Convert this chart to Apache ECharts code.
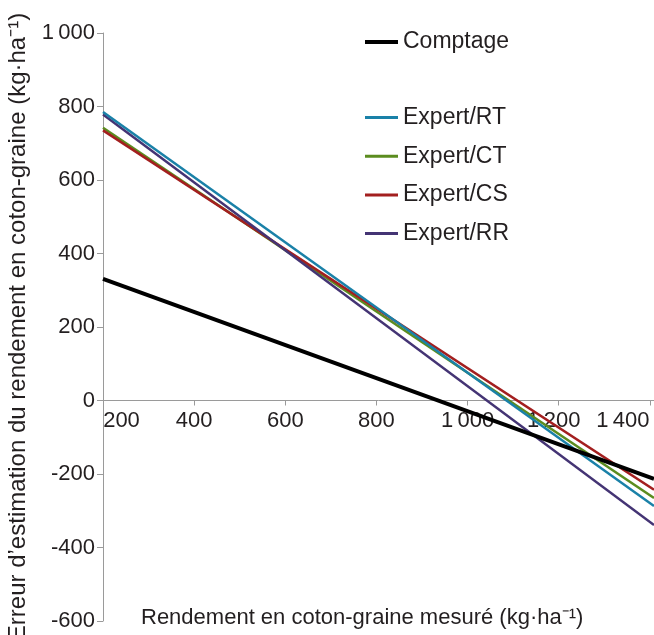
<!DOCTYPE html>
<html>
<head>
<meta charset="utf-8">
<script src="https://cdn.jsdelivr.net/npm/echarts@6/dist/echarts.min.js"></script>
<style>html,body{margin:0;padding:0;background:#fff}#c{width:654px;height:635px}</style>
</head>
<body>
<div id="c"></div>
<script>
// Data
const xValues = [200, 1409];
const comptage = [331, -213];
const expertRT = [785, -287];
const expertCT = [742, -265];
const expertCS = [735, -243];
const expertRR = [778, -339];
const xTicks = [200, 400, 600, 800, 1000, 1200, 1400];
const yTicks = [-600, -400, -200, 0, 200, 400, 600, 800, 1000];

const FONT = '"Liberation Sans", Arial, sans-serif';
const TXT = '#231f20';
const AX = '#9a9a9a';
const GRID_TOP = 33, GRID_BOTTOM = 14, H = 635;
const Y_MIN = -600, Y_MAX = 1000;
// distance (px) from grid bottom up to value 0, to place x axis line at y = 0
const plotH = H - GRID_TOP - GRID_BOTTOM;
const zeroOffset = -plotH * (0 - Y_MIN) / (Y_MAX - Y_MIN);

function pairs(ys) { return xValues.map((x, i) => [x, ys[i]]); }
function fmt(v) {
  const s = String(Math.abs(v));
  const t = s.length > 3 ? s.slice(0, s.length - 3) + '\u2009' + s.slice(s.length - 3) : s;
  return (v < 0 ? '-' : '') + t;
}

const legText = { fontSize: 23, color: TXT, fontFamily: FONT, lineHeight: 24 };

const chart = echarts.init(document.getElementById('c'));
chart.setOption({
  animation: false,
  textStyle: { fontFamily: FONT },
  grid: { left: 103, right: 0, top: GRID_TOP, bottom: GRID_BOTTOM, outerBoundsMode: 'none', containLabel: false },
  legend: [
    {
      data: [{ name: 'Comptage', icon: 'rect' }], left: 365, top: 30, orient: 'vertical', padding: 0,
      itemWidth: 33, itemHeight: 4, itemGap: 14, textStyle: legText
    },
    {
      data: ['Expert/RT', 'Expert/CT', 'Expert/CS', 'Expert/RR'].map(n => ({ name: n, icon: 'rect' })),
      left: 365, top: 105.5, orient: 'vertical', padding: 0,
      itemWidth: 33, itemHeight: 3, itemGap: 14.7, textStyle: legText
    }
  ],
  xAxis: {
    type: 'value', min: 200, max: 1409, interval: 200,
    offset: zeroOffset,
    axisLine: { onZero: false, lineStyle: { color: AX, width: 1 } },
    axisTick: { show: true, length: 5, lineStyle: { color: AX } },
    splitLine: { show: false },
    axisLabel: {
      fontSize: 22, color: TXT, fontFamily: FONT, margin: 9, showMaxLabel: false,
      formatter: function (v) {
        if (xTicks.indexOf(v) < 0) return '';
        if (v === 200) return '{f|' + fmt(v) + '}';
        if (v === 1400) return '{l|' + fmt(v) + '}';
        if (v === 1200) return '{m|' + fmt(v) + '}';
        return fmt(v);
      },
      rich: {
        f: { fontSize: 22, color: TXT, fontFamily: FONT, padding: [0, 0, 0, 37] },
        m: { fontSize: 22, color: TXT, fontFamily: FONT, padding: [0, 10, 0, 0] },
        l: { fontSize: 22, color: TXT, fontFamily: FONT, padding: [0, 54, 0, 0] }
      }
    }
  },
  yAxis: {
    type: 'value', min: Y_MIN, max: Y_MAX, interval: 200,
    axisLine: { show: true, lineStyle: { color: AX, width: 1 } },
    axisTick: { show: true, length: 6, lineStyle: { color: AX } },
    splitLine: { show: false },
    axisLabel: {
      fontSize: 22, color: TXT, fontFamily: FONT, margin: 8,
      formatter: function (v) { return yTicks.indexOf(v) < 0 ? '' : fmt(v); }
    },
    name: 'Erreur d\u2019estimation du rendement en coton-graine (kg\u00b7ha\u207b\u00b9)',
    nameLocation: 'middle', nameGap: 71, nameRotate: 90,
    nameTextStyle: { fontSize: 24, color: TXT, fontFamily: FONT }
  },
  graphic: [{
    type: 'text', left: 141, top: 607,
    style: {
      text: 'Rendement en coton-graine mesur\u00e9 (kg\u00b7ha\u207b\u00b9)',
      fontSize: 22, fill: TXT, fontFamily: FONT
    }
  }],
  series: [
    { name: 'Comptage', type: 'line', data: pairs(comptage), symbol: 'none', z: 5,
      lineStyle: { color: '#000000', width: 4 }, itemStyle: { color: '#000000' } },
    { name: 'Expert/RT', type: 'line', data: pairs(expertRT), symbol: 'none', z: 4,
      lineStyle: { color: '#1a81a8', width: 2.5 }, itemStyle: { color: '#1a81a8' } },
    { name: 'Expert/CT', type: 'line', data: pairs(expertCT), symbol: 'none', z: 3,
      lineStyle: { color: '#5b8c1f', width: 2.5 }, itemStyle: { color: '#5b8c1f' } },
    { name: 'Expert/CS', type: 'line', data: pairs(expertCS), symbol: 'none', z: 3,
      lineStyle: { color: '#a31f1f', width: 2.5 }, itemStyle: { color: '#a31f1f' } },
    { name: 'Expert/RR', type: 'line', data: pairs(expertRR), symbol: 'none', z: 3,
      lineStyle: { color: '#443474', width: 2.5 }, itemStyle: { color: '#443474' } }
  ]
});
</script>
</body>
</html>
